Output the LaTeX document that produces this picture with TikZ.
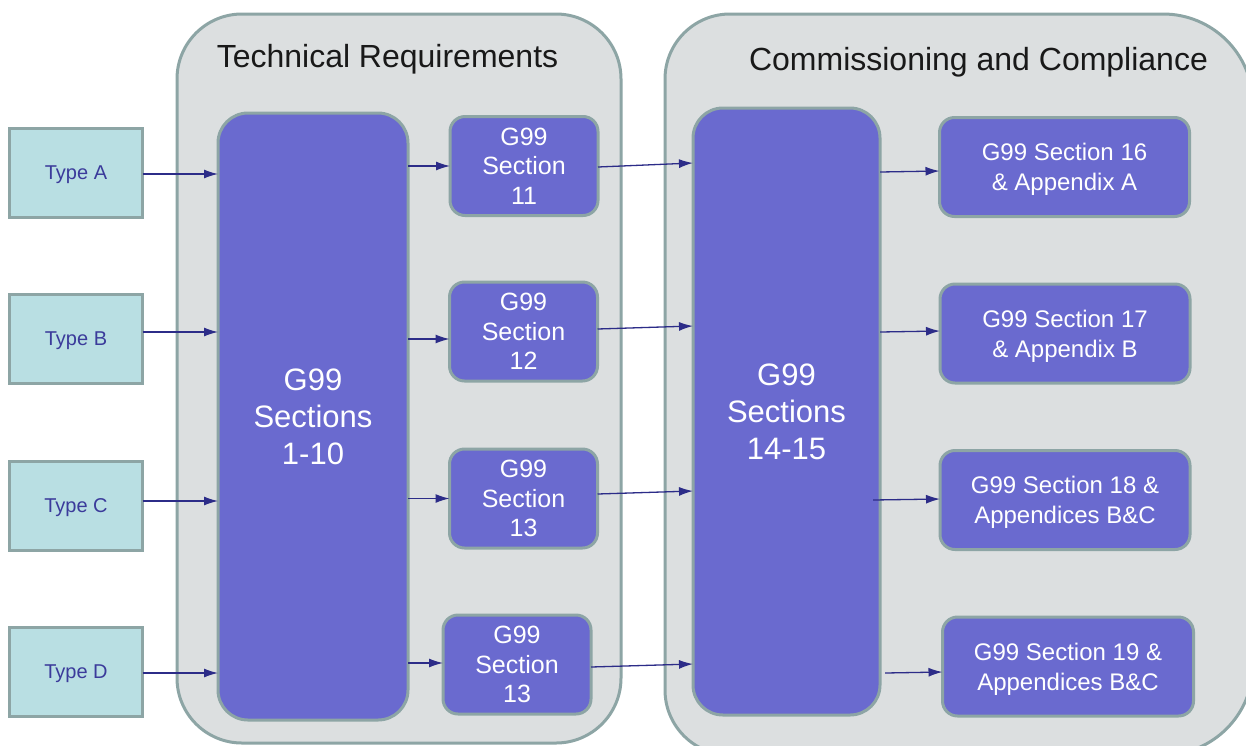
\documentclass[tikz,border=0pt]{standalone}
\usepackage{fontspec}
\setmainfont{Liberation Sans}
\usetikzlibrary{arrows.meta}
\definecolor{contfill}{HTML}{DCDFE0}
\definecolor{contline}{HTML}{8DA5A5}
\definecolor{purp}{HTML}{6A6ACF}
\definecolor{typefill}{HTML}{B9DFE3}
\definecolor{typetext}{HTML}{3B3B9B}
\definecolor{arr}{HTML}{2C2C88}
\tikzset{
  container/.style={draw=contline, fill=contfill, line width=3pt},
  typebox/.style={draw=contline, fill=typefill, line width=3.5pt, minimum width=133pt, minimum height=89pt, inner sep=0pt, outer sep=0pt, text=typetext, text depth=0pt, font=\fontsize{20}{24}\selectfont},
  bigbox/.style={draw=contline, fill=purp, line width=3pt, rounded corners=30pt, inner sep=0pt, outer sep=0pt, text=white, align=center, font=\fontsize{31}{37}\selectfont},
  smallbox/.style={draw=contline, fill=purp, line width=3pt, rounded corners=15pt, minimum width=148pt, minimum height=99pt, inner sep=0pt, outer sep=0pt, text=white, align=center, font=\fontsize{25}{29.5}\selectfont},
  rightbox/.style={draw=contline, fill=purp, line width=3pt, rounded corners=15pt, minimum width=250pt, minimum height=99pt, inner sep=0pt, outer sep=0pt, text=white, align=center, text depth=-2pt, font=\fontsize{24}{30}\selectfont},
  title/.style={text=black!90, font=\fontsize{32}{38}\selectfont, inner sep=0pt, anchor=base},
  conn/.style={draw=arr, line width=1.3pt, -{Latex[length=14pt,width=9pt]}}
}
\begin{document}
\begin{tikzpicture}[x=1pt,y=-1pt]
\useasboundingbox (0,0) rectangle (1246,745);
\clip (0,0) rectangle (1246,745);
\fill[white] (0,0) rectangle (1246,745);
% containers
\draw[container, rounded corners=65pt] (177,14) rectangle (621,743);
\draw[container] (665,400) [rounded corners=65pt] -- (665,14) [rounded corners=90pt] -- (1253,14) -- (1253,755) [rounded corners=65pt] -- (665,755) -- cycle;
\node[title] (t1) at (387.5,67) {Technical Requirements};
\node[title] (t2) at (978.5,70) {Commissioning and Compliance};
% type boxes
\node[typebox] (ta) at (76,173) {Type A};
\node[typebox] (tb) at (76,339) {Type B};
\node[typebox] (tc) at (76,506) {Type C};
\node[typebox] (td) at (76,672) {Type D};
% big boxes
\node[bigbox, minimum width=190pt, minimum height=607pt] (b1) at (313,416.5) {G99\\Sections\\1-10};
\node[bigbox, minimum width=187pt, minimum height=607pt] (b2) at (786.5,411.5) {G99\\Sections\\14-15};
% small boxes
\node[smallbox] (s11) at (524,166) {G99\\Section\\11};
\node[smallbox] (s12) at (523.5,331.5) {G99\\Section\\12};
\node[smallbox] (s13) at (523.5,498.5) {G99\\Section\\13};
\node[smallbox] (s13d) at (517,664.5) {G99\\Section\\13};
% right boxes
\node[rightbox] (s16) at (1064.5,167) {G99 Section 16\\\& Appendix A};
\node[rightbox] (s17) at (1065,333.5) {G99 Section 17\\\& Appendix B};
\node[rightbox] (s18) at (1065,500) {G99 Section 18 \&\\Appendices B\&C};
\node[rightbox, minimum width=251pt] (s19) at (1068,666.5) {G99 Section 19 \&\\Appendices B\&C};
% connectors: types -> sections 1-10
\draw[conn] ([yshift=-1pt]ta.east) -- ([yshift=-1pt]b1.west |- ta.east);
\draw[conn] ([yshift=7pt]tb.east) -- ([yshift=7pt]b1.west |- tb.east);
\draw[conn] ([yshift=5pt]tc.east) -- ([yshift=5pt]b1.west |- tc.east);
\draw[conn] ([yshift=-1pt]td.east) -- ([yshift=-1pt]b1.west |- td.east);
% sections 1-10 -> 11..13
\draw[conn] (b1.east |- s11.west) -- (s11.west);
\draw[conn] ([yshift=-7.5pt]b1.east |- s12.west) -- ([yshift=-7.5pt]s12.west);
\draw[conn] (b1.east |- s13.west) -- (s13.west);
\draw[conn] ([yshift=1.5pt]b1.east |- s13d.west) -- ([yshift=1.5pt]s13d.west);
% 11..13 -> sections 14-15
\draw[conn] ([yshift=-1pt]s11.east) -- ([yshift=3pt]b2.west |- s11.east);
\draw[conn] ([yshift=2.5pt]s12.east) -- ([yshift=5.5pt]b2.west |- s12.east);
\draw[conn] ([yshift=4.5pt]s13.east) -- ([yshift=7.5pt]b2.west |- s13.east);
\draw[conn] ([yshift=-2.5pt]s13d.east) -- ([yshift=0.5pt]b2.west |- s13d.east);
% sections 14-15 -> 16..19
\draw[conn] ([yshift=-5pt]b2.east |- s16.west) -- ([yshift=-4pt]s16.west);
\draw[conn] ([yshift=1.5pt]b2.east |- s17.west) -- ([yshift=2.5pt]s17.west);
\draw[conn] ([xshift=-7pt]b2.east |- s18.west) -- ([yshift=1pt]s18.west);
\draw[conn] ([yshift=-6.5pt,xshift=5pt]b2.east |- s19.west) -- ([yshift=-5.5pt]s19.west);
\end{tikzpicture}
\end{document}
